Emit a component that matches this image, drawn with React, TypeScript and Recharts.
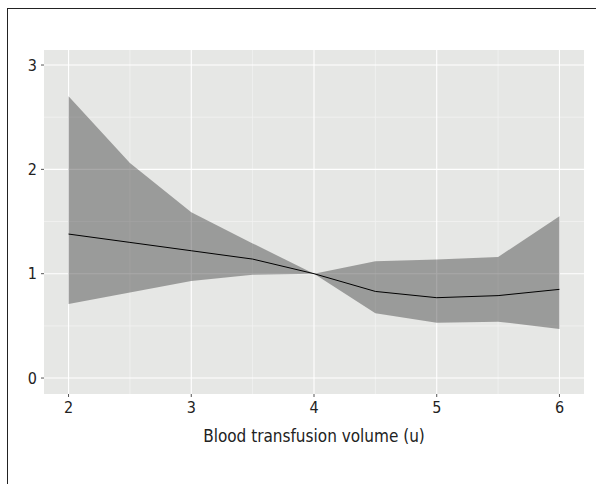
import { Area, CartesianGrid, ComposedChart, Line, XAxis, YAxis } from "recharts";

// Blood transfusion volume (u)
const volumes = [2, 2.5, 3, 3.5, 4, 4.5, 5, 5.5, 6];
const estimate = [1.38, 1.3, 1.22, 1.14, 1.0, 0.83, 0.77, 0.79, 0.85];
const lowerCi = [0.71, 0.82, 0.93, 0.99, 1.0, 0.62, 0.53, 0.54, 0.47];
const upperCi = [2.7, 2.06, 1.59, 1.29, 1.0, 1.12, 1.135, 1.16, 1.55];

const xTicks = [2, 3, 4, 5, 6];
const yTicks = [0, 1, 2, 3];
const xMinor = [2.5, 3.5, 4.5, 5.5];
const yMinor = [0.5, 1.5, 2.5];

const rows = volumes.map((v, i) => ({
  volume: v,
  estimate: estimate[i],
  band: [lowerCi[i], upperCi[i]]
}));

const font = '"DejaVu Sans Condensed", "Liberation Sans Narrow", sans-serif';
const tickStyle = { fontSize: 16, fill: "#222", fontFamily: font };

export default function App() {
  return (
    <div style={{ position: "absolute", left: 0, top: 0, width: 596, height: 484, overflow: "hidden", background: "#fff" }}>
      <div
        style={{
          position: "absolute",
          left: 7,
          top: 8,
          width: 620,
          height: 500,
          borderLeft: "1.5px solid #222",
          borderTop: "1.5px solid #222"
        }}
      />
      <div style={{ position: "absolute", left: 0, top: 0 }}>
        <ComposedChart width={596} height={484} data={rows} margin={{ top: 50, right: 12, bottom: 60, left: 14 }}>
          <CartesianGrid
            fill="#e6e7e5"
            stroke="#f2f2f2"
            strokeWidth={0.8}
            horizontalValues={yMinor}
            verticalValues={xMinor}
          />
          <CartesianGrid
            fill="none"
            stroke="#ffffff"
            strokeWidth={1.1}
            horizontalValues={yTicks}
            verticalValues={xTicks}
          />
          <XAxis
            dataKey="volume"
            type="number"
            domain={[1.8, 6.2]}
            ticks={xTicks}
            allowDataOverflow
            axisLine={false}
            tickLine={{ stroke: "#555" }}
            tickSize={3}
            tickMargin={5}
            height={30}
            tick={tickStyle}
            label={{
              value: "Blood transfusion volume (u)",
              position: "bottom",
              offset: 6,
              style: { fontSize: 17, fill: "#222", fontFamily: font }
            }}
          />
          <YAxis
            type="number"
            domain={[-0.153, 3.144]}
            ticks={yTicks}
            allowDataOverflow
            axisLine={false}
            tickLine={{ stroke: "#555" }}
            tickSize={3}
            tickMargin={4}
            width={30}
            tick={tickStyle}
          />
          <Area
            dataKey="band"
            type="linear"
            stroke="none"
            fill="#333333"
            fillOpacity={0.42}
            isAnimationActive={false}
            activeDot={false}
          />
          <Line
            dataKey="estimate"
            type="linear"
            stroke="#000"
            strokeWidth={1}
            dot={false}
            activeDot={false}
            isAnimationActive={false}
          />
        </ComposedChart>
      </div>
    </div>
  );
}
